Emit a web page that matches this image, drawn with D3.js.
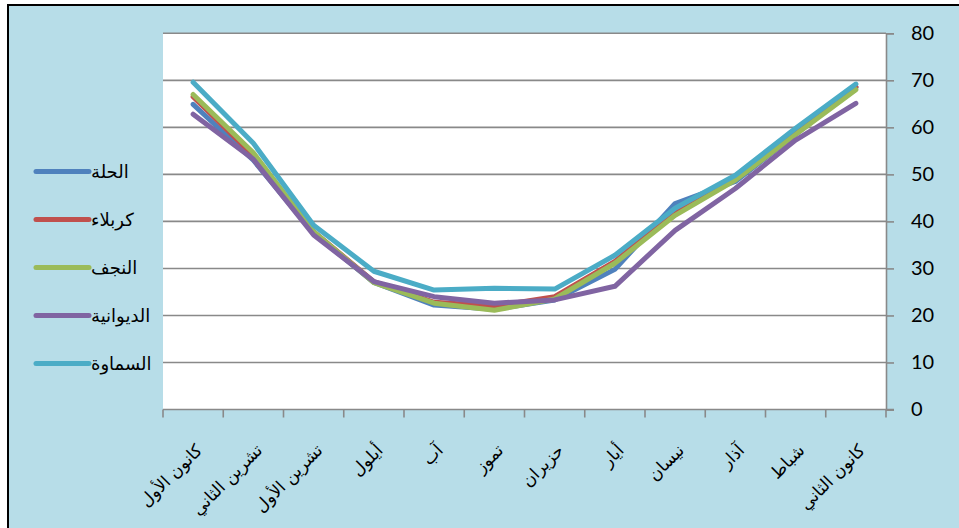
<!DOCTYPE html>
<html>
<head>
<meta charset="utf-8">
<script src="https://cdn.jsdelivr.net/npm/d3@7"></script>
<style>
  html, body { margin: 0; padding: 0; background: #fff; }
  svg { display: block; }
</style>
</head>
<body>
<svg id="chart" width="959" height="528"></svg>
<script>
// Months, right to left in time (Arabic order, left to right on screen)
const months = ["كانون الأول", "تشرين الثاني", "تشرين الأول", "أيلول", "آب", "تموز",
                "حزيران", "أيار", "نيسان", "آذار", "شباط", "كانون الثاني"];

const cities = ["الحلة", "كربلاء", "النجف", "الديوانية", "السماوة"];

const hilla    = [64.9, 53.0, 37.5, 27.0, 22.2, 21.3, 23.3, 29.8, 43.8, 48.5, 58.5, 68.5];
const karbala  = [66.5, 54.0, 37.8, 27.2, 22.8, 22.0, 24.0, 31.5, 42.0, 49.2, 59.0, 68.6];
const najaf    = [67.0, 54.6, 37.8, 27.0, 22.6, 21.1, 23.5, 31.1, 41.3, 48.8, 58.5, 68.0];
const diwaniya = [62.8, 53.2, 37.1, 27.2, 24.0, 22.6, 23.3, 26.2, 38.1, 47.0, 57.3, 65.1];
const samawa   = [69.6, 56.6, 39.2, 29.4, 25.4, 25.8, 25.6, 32.8, 42.8, 49.8, 59.8, 69.2];

const yTicks = [0, 10, 20, 30, 40, 50, 60, 70, 80];

const seriesValues = [hilla, karbala, najaf, diwaniya, samawa];
const colors = ["#4F81BD", "#C0504D", "#9BBB59", "#8064A2", "#4BACC6"];

const svg = d3.select("#chart");
const W = 959, H = 528;
const plot = { left: 163, right: 886, top: 33.3, bottom: 409.5 };

// chart area: light blue panel with a dark frame on the top and left
svg.append("rect").attr("x", 0).attr("y", 0).attr("width", W).attr("height", H).attr("fill", "#ffffff");
svg.append("rect").attr("x", 8).attr("y", 5).attr("width", W).attr("height", H)
  .attr("fill", "#B7DDE8").attr("stroke", "#000").attr("stroke-width", 2);

// plot area
svg.append("rect")
  .attr("x", plot.left).attr("y", plot.top)
  .attr("width", plot.right - plot.left).attr("height", plot.bottom - plot.top)
  .attr("fill", "#ffffff");

const x = d3.scaleBand().domain(months).range([plot.left, plot.right]).padding(0);
const y = d3.scaleLinear().domain([0, 80]).range([plot.bottom, plot.top]);
const cx = m => x(m) + x.bandwidth() / 2;

// horizontal gridlines
svg.append("g").selectAll("line")
  .data(yTicks.filter(v => v > 0))
  .join("line")
  .attr("x1", plot.left).attr("x2", plot.right)
  .attr("y1", d => y(d)).attr("y2", d => y(d))
  .attr("stroke", "#898989").attr("stroke-width", 1.6);

// value axis on the right
const yAxis = svg.append("g")
  .attr("transform", `translate(${plot.right},0)`)
  .call(d3.axisRight(y).tickValues(yTicks).tickSize(8).tickPadding(17).tickFormat(d3.format("d")));
yAxis.select(".domain").attr("stroke", "#898989").attr("stroke-width", 1.6);
yAxis.selectAll(".tick line").attr("stroke", "#898989").attr("stroke-width", 1.6);
yAxis.selectAll(".tick text")
  .attr("fill", "#000")
  .style("font-family", "Lato, 'Open Sans', sans-serif")
  .style("font-size", "20px");

// category axis at the bottom, ticks between categories
const xAxisG = svg.append("g");
xAxisG.append("line")
  .attr("x1", plot.left).attr("x2", plot.right + 8)
  .attr("y1", plot.bottom).attr("y2", plot.bottom)
  .attr("stroke", "#898989").attr("stroke-width", 1.6);
const boundaries = months.map(m => x(m)).concat([plot.right]);
xAxisG.selectAll("line.tick")
  .data(boundaries)
  .join("line")
  .attr("class", "tick")
  .attr("x1", d => d).attr("x2", d => d)
  .attr("y1", plot.bottom).attr("y2", plot.bottom + 8)
  .attr("stroke", "#898989").attr("stroke-width", 1.6);

xAxisG.selectAll("text")
  .data(months)
  .join("text")
  .attr("transform", d => `translate(${cx(d) + 10},${plot.bottom + 42}) rotate(-45)`)
  .attr("text-anchor", "end")
  .attr("fill", "#000")
  .style("font-family", "'DejaVu Sans', sans-serif")
  .style("font-size", "17px")
  .text(d => d);

// series lines
const line = d3.line()
  .x((d, i) => cx(months[i]))
  .y(d => y(d));

svg.append("g").selectAll("path")
  .data(seriesValues)
  .join("path")
  .attr("d", d => line(d))
  .attr("fill", "none")
  .attr("stroke", (d, i) => colors[i])
  .attr("stroke-width", 5)
  .attr("stroke-linejoin", "round")
  .attr("stroke-linecap", "round");

// legend
const legend = svg.append("g");
const legY = i => 171.5 + i * 48;
cities.forEach((name, i) => {
  legend.append("line")
    .attr("x1", 36).attr("x2", 89)
    .attr("y1", legY(i)).attr("y2", legY(i))
    .attr("stroke", colors[i]).attr("stroke-width", 5)
    .attr("stroke-linecap", "round");
  legend.append("text")
    .attr("x", 91).attr("y", legY(i) + 6)
    .attr("text-anchor", "start")
    .attr("fill", "#000")
    .style("font-family", "'DejaVu Sans', sans-serif")
    .style("font-size", "18px")
    .text(name);
});
</script>
</body>
</html>
